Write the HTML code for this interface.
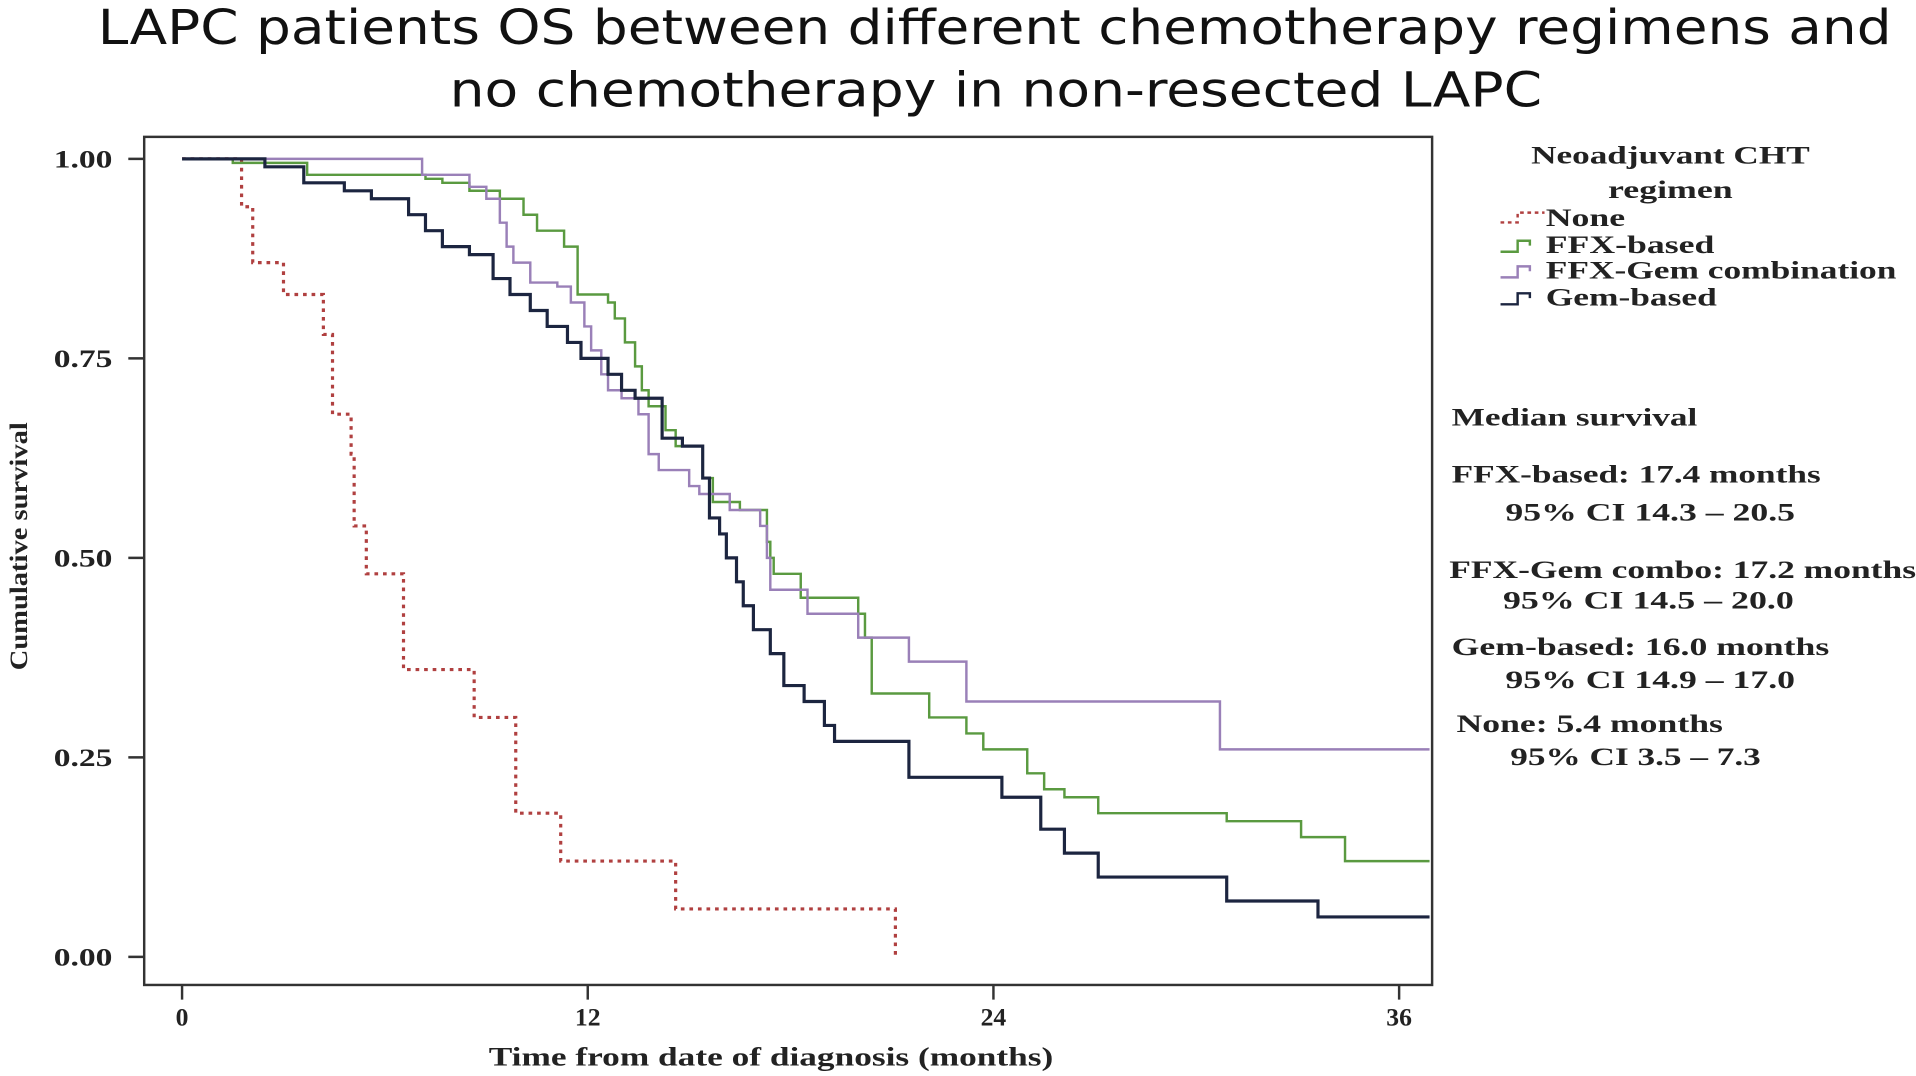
<!DOCTYPE html>
<html><head><meta charset="utf-8"><style>
html,body{margin:0;padding:0;background:#fff;}
svg{display:block}
.s{font-family:"Liberation Serif",serif;font-weight:bold;fill:#222}
.t{font-family:"DejaVu Sans","Liberation Sans",sans-serif;fill:#111}
</style></head><body>
<svg id="chart" width="1916" height="1076" viewBox="0 0 1568 880.5" preserveAspectRatio="none" xmlns="http://www.w3.org/2000/svg">
<text class="t" x="80" y="36" font-size="39" textLength="1468" lengthAdjust="spacingAndGlyphs">LAPC patients OS between different chemotherapy regimens and</text>
<text class="t" x="368" y="87" font-size="39" textLength="894" lengthAdjust="spacingAndGlyphs">no chemotherapy in non-resected LAPC</text>
<rect x="118" y="112" width="1054" height="694" fill="none" stroke="#333" stroke-width="2"/>
<g id="axes"></g>
<g id="series"></g>
<text class="s" transform="translate(22,447) rotate(-90)" font-size="21" text-anchor="middle" textLength="203" lengthAdjust="spacingAndGlyphs">Cumulative survival</text>
<text class="s" x="400" y="872" font-size="22" textLength="462" lengthAdjust="spacingAndGlyphs">Time from date of diagnosis (months)</text>
<g>
<text class="s" x="1253" y="134" font-size="21" textLength="228" lengthAdjust="spacingAndGlyphs">Neoadjuvant CHT</text>
<text class="s" x="1316" y="162" font-size="21" textLength="102" lengthAdjust="spacingAndGlyphs">regimen</text>
<path d="M1228,182 h14 v-8 h22" fill="none" stroke="#b04040" stroke-width="2" stroke-dasharray="3,3"/>
<text class="s" x="1265" y="185" font-size="21" textLength="65" lengthAdjust="spacingAndGlyphs">None</text>
<path d="M1228,206 h14 v-9 h10 v4" fill="none" stroke="#5a9a40" stroke-width="2"/>
<text class="s" x="1265" y="207" font-size="21" textLength="138" lengthAdjust="spacingAndGlyphs">FFX-based</text>
<path d="M1228,227 h14 v-9 h10 v4" fill="none" stroke="#9a80b8" stroke-width="2"/>
<text class="s" x="1265" y="228" font-size="21" textLength="287" lengthAdjust="spacingAndGlyphs">FFX-Gem combination</text>
<path d="M1228,249 h14 v-9 h10 v4" fill="none" stroke="#1c2540" stroke-width="2"/>
<text class="s" x="1265" y="250" font-size="21" textLength="140" lengthAdjust="spacingAndGlyphs">Gem-based</text>
</g>
<g font-size="21">
<text class="s" x="1188" y="348" textLength="201" lengthAdjust="spacingAndGlyphs">Median survival</text>
<text class="s" x="1188" y="395" textLength="302" lengthAdjust="spacingAndGlyphs">FFX-based: 17.4 months</text>
<text class="s" x="1232" y="426" textLength="237" lengthAdjust="spacingAndGlyphs">95% CI 14.3 – 20.5</text>
<text class="s" x="1186" y="473" textLength="382" lengthAdjust="spacingAndGlyphs">FFX-Gem combo: 17.2 months</text>
<text class="s" x="1230" y="498" textLength="238" lengthAdjust="spacingAndGlyphs">95% CI 14.5 – 20.0</text>
<text class="s" x="1188" y="536" textLength="309" lengthAdjust="spacingAndGlyphs">Gem-based: 16.0 months</text>
<text class="s" x="1232" y="563" textLength="237" lengthAdjust="spacingAndGlyphs">95% CI 14.9 – 17.0</text>
<text class="s" x="1192" y="599" textLength="218" lengthAdjust="spacingAndGlyphs">None: 5.4 months</text>
<text class="s" x="1236" y="626" textLength="205" lengthAdjust="spacingAndGlyphs">95% CI 3.5 – 7.3</text>
</g>
</svg>
<script>
const xTicks=[0,12,24,36];
const yTicks=[0,0.25,0.5,0.75,1];
const yTickLabels=["0.00","0.25","0.50","0.75","1.00"];
const noneT=[0,1.76,2.09,3.0,4.18,4.45,5.0,5.09,5.45,6.55,8.64,9.87,11.2,14.6,21.1];
const noneS=[1,0.94,0.87,0.83,0.78,0.68,0.63,0.54,0.48,0.36,0.30,0.18,0.12,0.06,0];
const noneEnd=21.1;
const ffxT=[0,1.5,3.7,7.2,7.7,8.5,9.4,10.1,10.5,11.3,11.7,12.6,12.8,13.1,13.4,13.6,13.8,14.3,14.6,15.4,15.7,16.5,17.3,17.4,17.5,18.3,20.0,20.2,20.4,22.1,23.2,23.7,25.0,25.5,26.1,27.1,30.9,33.1,34.4];
const ffxS=[1,0.995,0.98,0.975,0.97,0.96,0.95,0.93,0.91,0.89,0.83,0.82,0.80,0.77,0.74,0.71,0.69,0.66,0.64,0.60,0.57,0.56,0.52,0.50,0.48,0.45,0.43,0.40,0.33,0.30,0.28,0.26,0.23,0.21,0.20,0.18,0.17,0.15,0.12];
const ffxEnd=36.9;
const comboT=[0,7.1,8.5,9.0,9.4,9.6,9.8,10.3,11.1,11.5,11.9,12.1,12.4,12.6,13.0,13.5,13.8,14.1,15.0,15.3,16.2,17.1,17.3,17.4,18.5,20.0,21.5,23.2,30.7];
const comboS=[1,0.98,0.965,0.95,0.92,0.89,0.87,0.845,0.84,0.82,0.79,0.76,0.73,0.71,0.70,0.68,0.63,0.61,0.59,0.58,0.56,0.54,0.50,0.46,0.43,0.40,0.37,0.32,0.26];
const comboEnd=36.9;
const gemT=[0,2.45,3.6,4.8,5.6,6.7,7.2,7.7,8.5,9.2,9.7,10.3,10.8,11.4,11.8,12.6,13.0,13.4,14.2,14.8,15.4,15.6,15.9,16.1,16.4,16.6,16.9,17.4,17.8,18.4,19.0,19.3,21.5,24.25,25.4,26.1,27.1,30.9,33.6];
const gemS=[1,0.99,0.97,0.96,0.95,0.93,0.91,0.89,0.88,0.85,0.83,0.81,0.79,0.77,0.75,0.73,0.71,0.70,0.65,0.64,0.60,0.55,0.53,0.50,0.47,0.44,0.41,0.38,0.34,0.32,0.29,0.27,0.225,0.20,0.16,0.13,0.10,0.07,0.05];
const gemEnd=36.9;

const X=t=>149+t*(332/12);
const Y=v=>783-v*653;
const NS='http://www.w3.org/2000/svg';
const axes=document.getElementById('axes');
const ser=document.getElementById('series');
function mk(tag,attrs,parent){const e=document.createElementNS(NS,tag);for(const k in attrs)e.setAttribute(k,attrs[k]);parent.appendChild(e);return e;}
xTicks.forEach(t=>{
  const l=mk('line',{x1:X(t),x2:X(t),y1:806,y2:818,stroke:'#333','stroke-width':2},axes);
  
  
  const tx=mk('text',{x:X(t),y:839,'font-size':21,'text-anchor':'middle',class:'s'},axes);
  tx.textContent=t;
  
  
});
yTicks.forEach((v,i)=>{
  const l=mk('line',{x1:105,x2:118,y1:Y(v),y2:Y(v),stroke:'#333','stroke-width':2},axes);
  
  
  const tx=mk('text',{x:44,y:Y(v)+7,'font-size':21,textLength:48,lengthAdjust:'spacingAndGlyphs',class:'s'},axes);
  tx.textContent=yTickLabels[i];
  
  
});
function step(T,S,end,drop){
  let d='M'+X(T[0])+','+Y(S[0]);
  for(let i=1;i<T.length;i++){d+=' H'+X(T[i])+' V'+Y(S[i]);}
  if(!drop)d+=' H'+X(end);
  return d;
}
function draw(T,S,end,color,w,dash,name,drop){
  const p=mk('path',{d:step(T,S,end,drop),fill:'none',stroke:color,'stroke-width':w},ser);
  if(dash)p.setAttribute('stroke-dasharray',dash);
  
  
}
draw(noneT,noneS,noneEnd,'#b04040',2.6,'3,4','series-none',true);
draw(ffxT,ffxS,ffxEnd,'#5a9a40',2,null,'series-ffx-based',false);
draw(comboT,comboS,comboEnd,'#9a80b8',2,null,'series-ffx-gem-combination',false);
draw(gemT,gemS,gemEnd,'#1c2540',2.6,null,'series-gem-based',false);
</script>
</body></html>
